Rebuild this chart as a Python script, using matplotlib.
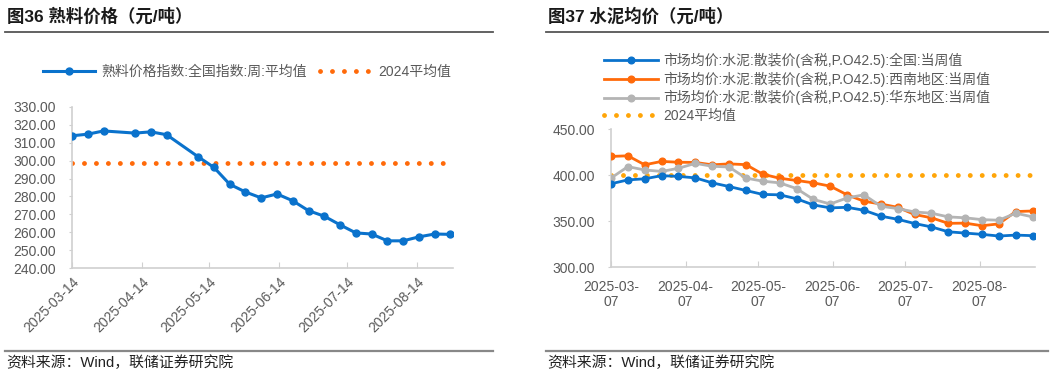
import matplotlib
matplotlib.use("Agg")
import matplotlib.pyplot as plt
import matplotlib.dates as mdates
from matplotlib.lines import Line2D
import numpy as np
import datetime as dt

plt.rcParams['font.family'] = ['Liberation Sans', 'Noto Sans CJK SC', 'DejaVu Sans']

# ---------------- data ----------------
left_title = "图36 熟料价格（元/吨）"
right_title = "图37 水泥均价（元/吨）"
source_text = "资料来源：Wind，联储证券研究院"

clinker_dates = ["2025-03-14", "2025-03-21", "2025-03-28", "2025-04-11", "2025-04-18",
                 "2025-04-25", "2025-05-09", "2025-05-16", "2025-05-23", "2025-05-30",
                 "2025-06-06", "2025-06-13", "2025-06-20", "2025-06-27", "2025-07-04",
                 "2025-07-11", "2025-07-18", "2025-07-25", "2025-08-01", "2025-08-08",
                 "2025-08-15", "2025-08-22", "2025-08-29"]
clinker_values = [313.8, 314.7, 316.5, 315.3, 316.0, 314.4, 302.1, 296.2, 286.8, 282.5,
                  279.2, 281.4, 277.6, 272.1, 269.0, 264.2, 259.7, 259.1, 255.3, 255.3,
                  257.5, 259.1, 258.9]
clinker_avg_2024 = 298.5
clinker_label = "熟料价格指数:全国指数:周:平均值"
avg_label = "2024平均值"
clinker_ticks = ["2025-03-14", "2025-04-14", "2025-05-14", "2025-06-14", "2025-07-14", "2025-08-14"]

cement_dates = ["2025-03-07", "2025-03-14", "2025-03-21", "2025-03-28", "2025-04-04",
                "2025-04-11", "2025-04-18", "2025-04-25", "2025-05-02", "2025-05-09",
                "2025-05-16", "2025-05-23", "2025-05-30", "2025-06-06", "2025-06-13",
                "2025-06-20", "2025-06-27", "2025-07-04", "2025-07-11", "2025-07-18",
                "2025-07-25", "2025-08-01", "2025-08-08", "2025-08-15", "2025-08-22",
                "2025-08-29"]
cement_national = [390.8, 395.0, 396.2, 399.6, 398.8, 397.2, 391.8, 387.8, 383.5, 379.2,
                   378.8, 374.5, 367.8, 364.6, 365.2, 362.0, 355.6, 352.2, 347.6, 343.9,
                   338.6, 337.2, 335.8, 334.0, 335.0, 334.4]
cement_southwest = [420.5, 421.2, 411.4, 415.1, 414.2, 414.0, 411.4, 412.4, 411.6, 401.2,
                    396.8, 394.4, 391.8, 388.2, 378.8, 371.8, 368.8, 365.2, 357.4, 353.8,
                    347.8, 348.0, 345.2, 347.2, 360.6, 361.2]
cement_east = [397.0, 409.4, 405.8, 404.2, 407.6, 413.0, 409.8, 409.0, 397.0, 393.6,
               391.8, 385.6, 373.8, 368.8, 375.4, 378.8, 366.4, 363.8, 360.2, 358.8,
               354.8, 353.8, 351.8, 351.2, 358.8, 354.8]
cement_avg_2024 = 400.0
cement_labels = ["市场均价:水泥:散装价(含税,P.O42.5):全国:当周值",
                 "市场均价:水泥:散装价(含税,P.O42.5):西南地区:当周值",
                 "市场均价:水泥:散装价(含税,P.O42.5):华东地区:当周值"]
cement_ticks = ["2025-03-07", "2025-04-07", "2025-05-07", "2025-06-07", "2025-07-07", "2025-08-07"]

# ---------------- style ----------------
BLUE = "#0A72CC"
ORANGE = "#FF6A0A"
GRAY = "#B4B4B4"
YELLOW = "#FFA508"
TXT = "#595959"
SPINE = "#D0D0D0"

def d(s):
    return dt.datetime.strptime(s, "%Y-%m-%d")

W, H = 1054, 376
fig = plt.figure(figsize=(W / 100, H / 100), dpi=100)

def px_axes(x0, x1, y_top, y_bot):
    return fig.add_axes([x0 / W, 1 - y_bot / H, (x1 - x0) / W, (y_bot - y_top) / H])

def frame(x0, x1, title):
    fig.text(x0 + 2 / W, 1 - 16 / H, title, fontsize=12.5, fontweight='bold',
             color='#1a1a1a', va='center', ha='left')
    fig.add_artist(Line2D([x0, x1], [1 - 32 / H, 1 - 32 / H], color='#555555', lw=1.3))
    fig.add_artist(Line2D([x0, x1], [1 - 351 / H, 1 - 351 / H], color='#888888', lw=1.6))
    fig.text(x0 + 1 / W, 1 - 363 / H, source_text, fontsize=10.7, color='#222222',
             va='center', ha='left')

frame(5 / W, 493 / W, left_title)
frame(546 / W, 1048 / W, right_title)

dot_style = (0, (0.01, 2.45))
TICK_FS = 10

def style_axes(ax):
    for s in ['top', 'right']:
        ax.spines[s].set_visible(False)
    ax.spines['left'].set_color(SPINE)
    ax.spines['bottom'].set_color(SPINE)
    ax.spines['left'].set_linewidth(1.2)
    ax.spines['bottom'].set_linewidth(1.2)
    ax.tick_params(axis='y', direction='out', length=2.5, color=SPINE, labelcolor=TXT,
                   labelsize=TICK_FS, pad=9)
    ax.tick_params(axis='x', direction='in', length=4, color=SPINE, labelcolor=TXT,
                   labelsize=TICK_FS)
    ax.yaxis.set_major_formatter(matplotlib.ticker.FormatStrFormatter('%.2f'))

# ---------------- left chart ----------------
axl = px_axes(72, 452.7, 106.7, 268.3)
style_axes(axl)
xl = [d(s) for s in clinker_dates]
axl.plot(xl, clinker_values, color=BLUE, lw=2.2, marker='o', ms=5, label=clinker_label,
         zorder=3)
axl.plot([xl[0], xl[-1]], [clinker_avg_2024, clinker_avg_2024], color=ORANGE, lw=3.5,
         linestyle=dot_style, dash_capstyle='round', label=avg_label, zorder=2)
axl.set_ylim(240, 330)
axl.set_yticks(np.arange(240, 331, 10))
axl.set_xlim(d("2025-03-14"), d("2025-08-30"))
axl.set_xticks([d(s) for s in clinker_ticks])
axl.set_xticklabels(clinker_ticks, rotation=45, ha='right', rotation_mode='anchor',
                    fontsize=10)
axl.tick_params(axis='x', pad=5)

hl, ll = axl.get_legend_handles_labels()
legl = fig.legend(hl, ll, loc='center', bbox_to_anchor=(247 / W, 1 - 72 / H), ncol=2,
                  frameon=False, fontsize=10, handlelength=3.75, handletextpad=0.4,
                  columnspacing=1.0, labelcolor=TXT)

# ---------------- right chart ----------------
axr = px_axes(611, 1035, 129.3, 267.3)
style_axes(axr)
xr = [d(s) for s in cement_dates]
axr.plot(xr, cement_national, color=BLUE, lw=2.0, marker='o', ms=4.8, label=cement_labels[0], zorder=5)
axr.plot(xr, cement_southwest, color=ORANGE, lw=2.0, marker='o', ms=4.8, label=cement_labels[1], zorder=3)
axr.plot(xr, cement_east, color=GRAY, lw=2.0, marker='o', ms=4.8, label=cement_labels[2], zorder=4)
axr.plot([xr[0], xr[-1]], [cement_avg_2024, cement_avg_2024], color=YELLOW, lw=3.5,
         linestyle=dot_style, dash_capstyle='round', label=avg_label, zorder=2)
axr.set_ylim(300, 450)
axr.set_yticks([300, 350, 400, 450])
axr.set_xlim(d("2025-03-07"), d("2025-08-30"))
axr.set_xticks([d(s) for s in cement_ticks])
axr.set_xticklabels([s[:8] + "\n" + s[8:] for s in cement_ticks], ha='center',
                    linespacing=1.15)
axr.tick_params(axis='x', pad=9)

hr, lr = axr.get_legend_handles_labels()
legr = fig.legend(hr, lr, loc='upper left', bbox_to_anchor=(598 / W, 1 - 47 / H), ncol=1,
                  frameon=False, fontsize=10, handlelength=3.9, handletextpad=0.4,
                  labelspacing=0.26, labelcolor=TXT, borderaxespad=0)

fig.savefig("out.png", dpi=100, facecolor='white')
